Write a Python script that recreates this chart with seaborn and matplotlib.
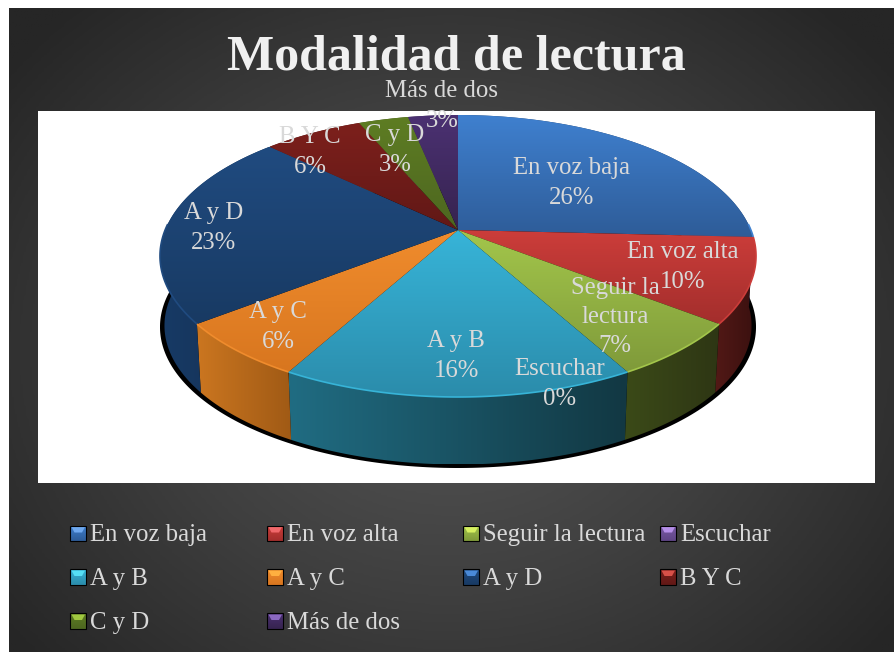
import numpy as np
import matplotlib
matplotlib.use("Agg")
import matplotlib.pyplot as plt
from matplotlib.patches import Polygon, Rectangle
import seaborn as sns

# data
categories = ["En voz baja", "En voz alta", "Seguir la lectura", "Escuchar", "A y B",
              "A y C", "A y D", "B Y C", "C y D", "Más de dos"]
counts = [8, 3, 2, 0, 5, 2, 7, 2, 1, 1]
pct_labels = ["26%", "10%", "7%", "0%", "16%", "6%", "23%", "6%", "3%", "3%"]

# colours
top_light = ["#3f80cf", "#cc3d3a", "#a3c64b", "#7a5aa6", "#37b4d8", "#f08c2d", "#204b80", "#7d201c", "#5e7d23", "#4b3172"]
top_dark = ["#2e5c98", "#a32e2c", "#7f9a3a", "#5f4585", "#2b8cab", "#d8761f", "#183a63", "#611816", "#4d6620", "#36234f"]
wall_left = ["#1f3f69", "#521916", "#3b4a18", "#3a2a50", "#206c82", "#cb7620", "#173a66", "#521916", "#3b4a18", "#3a2a50"]
wall_right = ["#1f3f69", "#3a100f", "#2e3614", "#3a2a50", "#123843", "#a05a15", "#14304f", "#521916", "#3b4a18", "#3a2a50"]
key_light = ["#6fa8ee", "#f0686a", "#d6f060", "#b58fe8", "#55dff5", "#ffb040", "#4a8ad8", "#d85048", "#a0c840", "#8a68c0"]

# layout in pixels
W, H = 895, 652
CX, CY = 458, 230
PERSP = 0.1844
A, B = 292.9, 136.2
DEPTH = 70
BOTTOM_SCALE = 0.985
label_text = ["En voz baja", "En voz alta", "Seguir la\nlectura", "Escuchar", "A y B",
              "A y C", "A y D", "B Y C", "C y D", "Más de dos"]
label_pos = [(572, 183), (683, 267), (615, 317), (560, 384), (456, 356),
             (278, 327), (214, 228), (310, 152), (395, 150), (442, 106)]
legend_x = [70.5, 267.5, 463.5, 660.5]
legend_y = [533.5, 577, 621]
KEY = 15.5
SERIF = "Liberation Serif"
TEXT_COLOR = "#d9d9d9"


def project(t, scale=1.0, shift=0):
    # circle seen in perspective, t is the clockwise angle from 12 o'clock
    x, y = np.sin(t), np.cos(t)
    d = 1 + PERSP * y
    return CX + scale * A * x / d, CY - scale * B * y / d + shift


def fill_gradient(ax, pts, c1, c2, horizontal=False):
    cmap = sns.blend_palette([c1, c2], as_cmap=True)
    patch = Polygon(pts, closed=True, transform=ax.transData, facecolor="none", edgecolor="none")
    ax.add_patch(patch)
    grad = np.linspace(0, 1, 128)
    grad = grad.reshape(1, -1) if horizontal else grad.reshape(-1, 1)
    x0, y0 = pts.min(axis=0)
    x1, y1 = pts.max(axis=0)
    im = ax.imshow(grad, cmap=cmap, extent=(x0, x1, y1, y0), aspect="auto", zorder=patch.get_zorder())
    im.set_clip_path(patch)


sns.set_theme(style="white")
plt.rcParams["font.family"] = [SERIF, "DejaVu Serif"]

fig = plt.figure(figsize=(W / 100, H / 100), dpi=100)
fig.patch.set_facecolor("white")
ax = fig.add_axes([0, 0, 1, 1])
ax.axis("off")

# dark radial background
yy, xx = np.mgrid[8:H:300j, 9:W:300j]
dist = np.sqrt(((xx - 450) / 560) ** 2 + ((yy - 350) / 470) ** 2)
bg_cmap = sns.blend_palette(["#555555", "#3f3f3f", "#262626"], as_cmap=True)
ax.imshow(dist, cmap=bg_cmap, vmin=0.05, vmax=1.0, extent=(9, W, H, 8), aspect="auto")

ax.add_patch(Rectangle((38, 111), 837, 372, facecolor="white", edgecolor="none"))

# slice angles from the counts
fracs = np.array(counts) / sum(counts)
edges = np.concatenate([[0], np.cumsum(fracs)]) * 2 * np.pi

# black shadow under the disc
ts = np.linspace(0, 2 * np.pi, 400)
sx, sy = project(ts, 1.0, DEPTH + 1)
ax.add_patch(Polygon(np.column_stack([sx, sy]), closed=True, facecolor="black", edgecolor="none"))

# side walls
for i in range(len(counts)):
    if counts[i] == 0:
        continue
    t = np.linspace(edges[i], edges[i + 1], 80)
    ux, uy = project(t)
    lx, ly = project(t, BOTTOM_SCALE, DEPTH)
    pts = np.column_stack([np.concatenate([ux, lx[::-1]]), np.concatenate([uy, ly[::-1]])])
    fill_gradient(ax, pts, wall_left[i], wall_right[i], horizontal=True)

# top of the disc
for i in range(len(counts)):
    if counts[i] == 0:
        continue
    t = np.linspace(edges[i], edges[i + 1], 120)
    ux, uy = project(t)
    pts = np.column_stack([np.concatenate([[CX], ux]), np.concatenate([[CY], uy])])
    fill_gradient(ax, pts, top_light[i], top_dark[i])
    # thin light rim, only on the front edge
    front = np.cos(t) < 0.05
    if front.any():
        ax.plot(ux[front], uy[front], color=top_light[i], lw=1.2, solid_capstyle="butt")

# data labels
for i in range(len(counts)):
    ax.text(label_pos[i][0], label_pos[i][1], label_text[i] + "\n" + pct_labels[i],
            color=TEXT_COLOR, fontsize=17.8, ha="center", va="center", linespacing=1.42)

ax.text(456, 69, "Modalidad de lectura", color="#f0f0f0", fontsize=36, fontweight="bold",
        ha="center", va="baseline")

# legend
for i in range(len(categories)):
    lx = legend_x[i % 4]
    ly = legend_y[i // 4]
    key = np.array([[lx, ly - KEY / 2], [lx + KEY, ly - KEY / 2], [lx + KEY, ly + KEY / 2], [lx, ly + KEY / 2]])
    fill_gradient(ax, key, top_light[i], top_dark[i])
    ax.add_patch(Polygon([[lx + 1, ly - 6.5], [lx + KEY - 1, ly - 6.5], [lx + KEY - 4, ly - 1], [lx + 4, ly - 1]],
                         closed=True, facecolor=key_light[i], edgecolor="none"))
    ax.add_patch(Rectangle((lx, ly - KEY / 2), KEY, KEY, facecolor="none", edgecolor="black", lw=0.8))
    ax.text(lx + 19.5, ly + 7.7, categories[i], color=TEXT_COLOR, fontsize=17.8, ha="left", va="baseline")

ax.set_xlim(0, W)
ax.set_ylim(H, 0)

fig.savefig("out.png", dpi=100)
